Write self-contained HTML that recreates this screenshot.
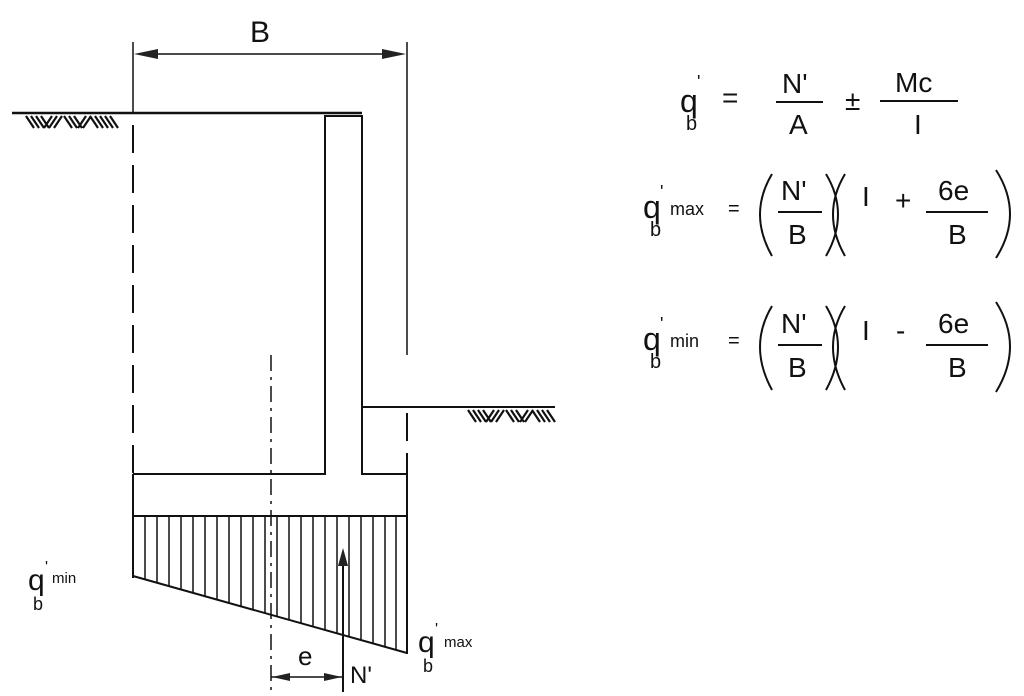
<!DOCTYPE html>
<html><head><meta charset="utf-8"><style>
html,body{margin:0;padding:0;background:#fff;width:1024px;height:696px;overflow:hidden}
svg{display:block}
text{font-family:"Liberation Sans",sans-serif;fill:#111}
</style></head><body>
<svg width="1024" height="696" viewBox="0 0 1024 696" xmlns="http://www.w3.org/2000/svg">
<g stroke="#111" fill="none" stroke-width="2">
<line x1="12" y1="113" x2="362" y2="113" stroke-width="2.5"/>
<polyline points="133,474 325,474 325,116 362,116 362,407 555,407"/>
<polyline points="362,407 362,474 407,474"/>
<line x1="133" y1="516" x2="407" y2="516"/>
<line x1="133" y1="474" x2="133" y2="578"/>
<line x1="407" y1="474" x2="407" y2="654"/>
<line x1="133" y1="576" x2="407" y2="653"/>
<line x1="133" y1="42" x2="133" y2="112" stroke-width="1.5"/>
<line x1="407" y1="42" x2="407" y2="355" stroke-width="1.5"/>
<line x1="133" y1="125" x2="133" y2="474" stroke-width="2" stroke-dasharray="28,12"/>
<line x1="407" y1="413" x2="407" y2="474" stroke-width="2" stroke-dasharray="28,12"/>
<line x1="140" y1="54" x2="400" y2="54" stroke-width="1.5"/>
<line x1="271" y1="355" x2="271" y2="690" stroke-width="1.5" stroke-dasharray="16,6,3,6"/>
<line x1="343" y1="560" x2="343" y2="692" stroke-width="2"/>
<line x1="271" y1="677" x2="343" y2="677" stroke-width="1.5"/>
</g>
<g fill="#222">
<polygon points="134,54 158,49 158,59"/>
<polygon points="406,54 382,49 382,59"/>
<polygon points="272,677 290,673 290,681"/>
<polygon points="342,677 324,673 324,681"/>
<polygon points="343,548 338,566 348,566"/>
</g>
<g stroke="#111" stroke-width="1.5">
<line x1="145" y1="516" x2="145" y2="580"/><line x1="157" y1="516" x2="157" y2="583"/>
<line x1="169" y1="516" x2="169" y2="586"/><line x1="181" y1="516" x2="181" y2="590"/>
<line x1="193" y1="516" x2="193" y2="593"/><line x1="205" y1="516" x2="205" y2="596"/>
<line x1="217" y1="516" x2="217" y2="600"/><line x1="229" y1="516" x2="229" y2="603"/>
<line x1="241" y1="516" x2="241" y2="606"/><line x1="253" y1="516" x2="253" y2="610"/>
<line x1="265" y1="516" x2="265" y2="613"/><line x1="277" y1="516" x2="277" y2="616"/>
<line x1="289" y1="516" x2="289" y2="620"/><line x1="301" y1="516" x2="301" y2="623"/>
<line x1="313" y1="516" x2="313" y2="626"/><line x1="325" y1="516" x2="325" y2="630"/>
<line x1="337" y1="516" x2="337" y2="633"/><line x1="349" y1="516" x2="349" y2="637"/>
<line x1="361" y1="516" x2="361" y2="640"/><line x1="373" y1="516" x2="373" y2="643"/>
<line x1="385" y1="516" x2="385" y2="647"/><line x1="396" y1="516" x2="396" y2="650"/>
</g>
<g stroke="#111" stroke-width="2.2">
<path d="M26,116 L34,128 M31,116 L39,128 M36,116 L44,128 M41,116 L49,128 M52,116 L44,128 M57,116 L49,128 M62,116 L54,128 M64,116 L72,128 M69,116 L77,128 M74,116 L82,128 M86,116 L78,128 M91,116 L83,128 M90,116 L98,128 M95,116 L103,128 M100,116 L108,128 M105,116 L113,128 M110,116 L118,128"/>
<path d="M468,410 L476,422 M473,410 L481,422 M478,410 L486,422 M483,410 L491,422 M494,410 L486,422 M499,410 L491,422 M504,410 L496,422 M506,410 L514,422 M511,410 L519,422 M516,410 L524,422 M528,410 L520,422 M533,410 L525,422 M532,410 L540,422 M537,410 L545,422 M542,410 L550,422 M547,410 L555,422"/>
</g>
<text x="250" y="42" font-size="30">B</text>
<text x="298" y="665" font-size="26">e</text>
<text x="350" y="683" font-size="24">N'</text>
<text x="28" y="590" font-size="30">q</text><text x="33" y="610" font-size="18">b</text><text x="45" y="572" font-size="16">'</text><text x="52" y="583" font-size="15">min</text>
<text x="418" y="652" font-size="30">q</text><text x="423" y="672" font-size="18">b</text><text x="435" y="634" font-size="16">'</text><text x="444" y="647" font-size="15">max</text>
<g font-size="28">
<text x="680" y="112" font-size="32">q</text><text x="686" y="130" font-size="20">b</text><text x="697" y="88" font-size="18">'</text>
<text x="722" y="107">=</text>
<text x="782" y="93">N'</text><line x1="776" y1="102" x2="823" y2="102" stroke="#111" stroke-width="2"/><text x="789" y="134">A</text>
<text x="845" y="110">±</text>
<text x="895" y="92">Mc</text><line x1="880" y1="101" x2="958" y2="101" stroke="#111" stroke-width="2"/><text x="914" y="134">I</text>

<text x="643" y="218" font-size="32">q</text><text x="650" y="236" font-size="20">b</text><text x="660" y="198" font-size="18">'</text>
<text x="670" y="215" font-size="18">max</text><text x="728" y="215" font-size="20">=</text>
<text x="781" y="200">N'</text><line x1="778" y1="212" x2="822" y2="212" stroke="#111" stroke-width="2"/><text x="788" y="244">B</text>
<text x="862" y="206">I</text><text x="895" y="210">+</text>
<text x="938" y="200">6e</text><line x1="926" y1="212" x2="988" y2="212" stroke="#111" stroke-width="2"/><text x="948" y="244">B</text>

<text x="643" y="350" font-size="32">q</text><text x="650" y="368" font-size="20">b</text><text x="660" y="330" font-size="18">'</text>
<text x="670" y="347" font-size="18">min</text><text x="728" y="347" font-size="20">=</text>
<text x="781" y="333">N'</text><line x1="778" y1="345" x2="822" y2="345" stroke="#111" stroke-width="2"/><text x="788" y="377">B</text>
<text x="862" y="340">I</text><text x="896" y="340">-</text>
<text x="938" y="333">6e</text><line x1="926" y1="345" x2="988" y2="345" stroke="#111" stroke-width="2"/><text x="948" y="377">B</text>
</g>
<g stroke="#111" stroke-width="2" fill="none">
<path d="M772,174 Q748,214 772,256"/><path d="M826,174 Q850,214 826,256"/>
<path d="M845,174 Q821,214 845,256"/><path d="M996,170 Q1024,214 996,258"/>
<path d="M772,306 Q748,346 772,390"/><path d="M826,306 Q850,346 826,390"/>
<path d="M845,306 Q821,346 845,390"/><path d="M996,302 Q1024,346 996,392"/>
</g>
</svg>
</body></html>
